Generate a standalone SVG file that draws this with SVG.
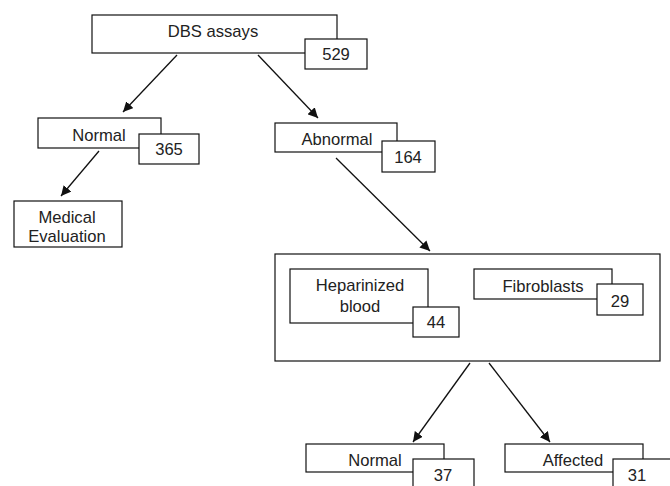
<svg xmlns="http://www.w3.org/2000/svg" width="670" height="486" viewBox="0 0 670 486">
<defs>
<style>
.b{fill:#fff;stroke:#111;stroke-width:1.2}
text{font-family:"Liberation Sans",Arial,sans-serif;font-size:16.6px;fill:#222;text-anchor:middle}
.c line{stroke:#111;stroke-width:1.3;marker-end:url(#ah)}
</style>
<marker id="ah" viewBox="0 0 10 10" refX="10" refY="5" markerWidth="10" markerHeight="10" markerUnits="userSpaceOnUse" orient="auto">
<path d="M0,0 L10,5 L0,10 z" fill="#111"/>
</marker>
</defs>
<rect width="670" height="486" fill="#fff"/>
<g class="c" id="connectors">
<line x1="177" y1="55" x2="123" y2="112"/>
<line x1="258" y1="55" x2="318" y2="118"/>
<line x1="99" y1="151" x2="61" y2="196"/>
<line x1="336" y1="158" x2="430" y2="251"/>
<line x1="470" y1="363" x2="413" y2="442"/>
<line x1="489" y1="363" x2="550" y2="442"/>
</g>
<g id="dbs">
<rect class="b" x="92" y="15" width="245" height="38"/>
<text x="213" y="37">DBS assays</text>
<rect class="b" x="305" y="39" width="62" height="30"/>
<text x="336" y="60">529</text>
</g>
<g id="normal1">
<rect class="b" x="38" y="118" width="123" height="30"/>
<text x="99" y="141">Normal</text>
<rect class="b" x="139" y="134" width="60" height="30"/>
<text x="169" y="155">365</text>
</g>
<g id="abnormal">
<rect class="b" x="275" y="123" width="122" height="29"/>
<text x="337" y="145">Abnormal</text>
<rect class="b" x="382" y="141" width="53" height="31"/>
<text x="408" y="163">164</text>
</g>
<g id="medical">
<rect class="b" x="14" y="201" width="108" height="46"/>
<text x="67" y="223">Medical</text>
<text x="67" y="242">Evaluation</text>
</g>
<g id="group">
<rect class="b" x="275" y="254" width="385" height="107"/>
</g>
<g id="heparinized">
<rect class="b" x="290" y="269" width="138" height="54"/>
<text x="360" y="291">Heparinized</text>
<text x="360" y="312">blood</text>
<rect class="b" x="413" y="307" width="46" height="30"/>
<text x="436" y="328">44</text>
</g>
<g id="fibroblasts">
<rect class="b" x="474" y="269" width="138" height="30"/>
<text x="543" y="292">Fibroblasts</text>
<rect class="b" x="597" y="284" width="46" height="31"/>
<text x="620" y="307">29</text>
</g>
<g id="normal2">
<rect class="b" x="306" y="444" width="138" height="28"/>
<text x="375" y="466">Normal</text>
<rect class="b" x="413" y="459" width="61" height="40"/>
<text x="443" y="481">37</text>
</g>
<g id="affected">
<rect class="b" x="505" y="444" width="138" height="28"/>
<text x="573" y="466">Affected</text>
<rect class="b" x="613" y="459" width="70" height="40"/>
<text x="637" y="481">31</text>
</g>
</svg>
